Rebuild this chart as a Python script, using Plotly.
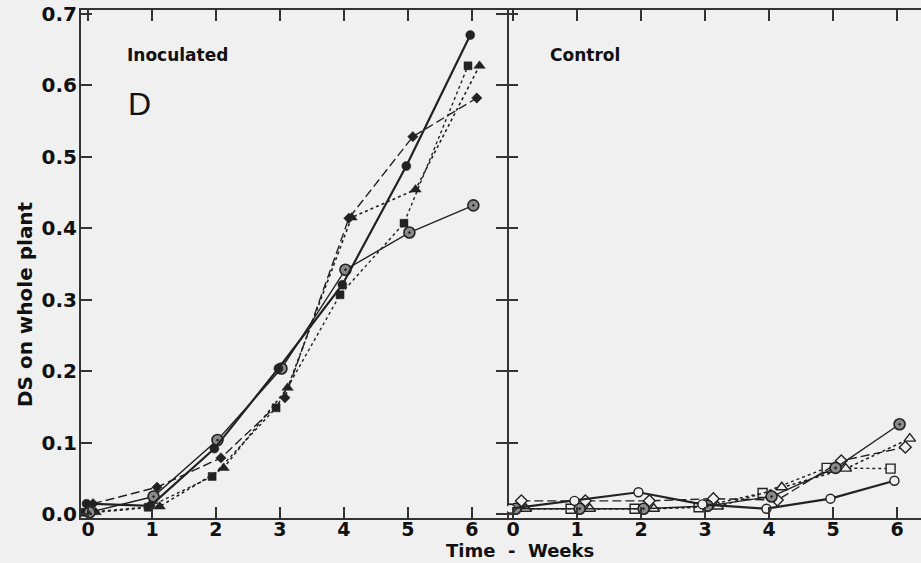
import plotly.graph_objects as go

# ---------------- data ----------------
weeks = [0, 1, 2, 3, 4, 5, 6]
y_ticks = [0.0, 0.1, 0.2, 0.3, 0.4, 0.5, 0.6, 0.7]

inoc_circle   = [0.015, 0.012, 0.092, 0.204, 0.321, 0.487, 0.670]
inoc_square   = [0.003, 0.010, 0.053, 0.149, 0.307, 0.407, 0.627]
inoc_triangle = [0.003, 0.011, 0.065, 0.177, 0.415, 0.454, 0.627]
inoc_diamond  = [0.015, 0.038, 0.079, 0.163, 0.414, 0.528, 0.582]
inoc_bullseye = [0.003, 0.025, 0.104, 0.204, 0.342, 0.394, 0.432]

ctrl_circle   = [0.008, 0.019, 0.031, 0.014, 0.008, 0.022, 0.047]
ctrl_square   = [0.008, 0.008, 0.008, 0.010, 0.030, 0.065, 0.064]
ctrl_triangle = [0.008, 0.008, 0.008, 0.011, 0.038, 0.064, 0.106]
ctrl_diamond  = [0.019, 0.019, 0.019, 0.022, 0.020, 0.075, 0.094]
ctrl_bullseye = [0.008, 0.008, 0.008, 0.012, 0.025, 0.065, 0.126]

# ---------------- styles ----------------
BG = "#f0f0f0"
INK = "#222222"
GREY = "#8a8a8a"

dodge = {"circle": -0.04, "square": -0.10, "triangle": 0.20, "diamond": 0.13, "bullseye": 0.04}
line_style = {
    "circle":   dict(dash="solid", width=2.2),
    "square":   dict(dash="3px,3px", width=1.4),
    "triangle": dict(dash="dot", width=1.6),
    "diamond":  dict(dash="9px,4px", width=1.4),
    "bullseye": dict(dash="solid", width=1.4),
}
sym_map = {"circle": "circle", "square": "square", "triangle": "triangle-up", "diamond": "diamond"}
size_filled = {"circle": 9, "square": 8, "triangle": 10, "diamond": 8}
size_open = {"circle": 9, "square": 9, "triangle": 10, "diamond": 9}

fig = go.Figure()

def add_series(vals, kind, filled, xa, ya, scale):
    xs = [w + dodge[kind] * scale for w in weeks]
    if kind == "bullseye":
        marker = dict(symbol="circle-dot", size=11, color=GREY, line=dict(color=INK, width=1.6))
    elif filled:
        marker = dict(symbol=sym_map[kind], size=size_filled[kind], color=INK,
                      line=dict(color=INK, width=0.5))
    else:
        marker = dict(symbol=sym_map[kind], size=size_open[kind], color=BG,
                      line=dict(color=INK, width=1.4))
    fig.add_trace(go.Scatter(
        x=xs, y=vals, mode="lines+markers", xaxis=xa, yaxis=ya,
        line=dict(color=INK, **line_style[kind]), marker=marker,
        showlegend=False, hoverinfo="skip"))

inoc = {"circle": inoc_circle, "square": inoc_square, "triangle": inoc_triangle,
        "diamond": inoc_diamond, "bullseye": inoc_bullseye}
ctrl = {"circle": ctrl_circle, "square": ctrl_square, "triangle": ctrl_triangle,
        "diamond": ctrl_diamond, "bullseye": ctrl_bullseye}

for k in ["square", "triangle", "diamond", "bullseye", "circle"]:
    add_series(inoc[k], k, True, "x", "y", 0.6)
for k in ["square", "triangle", "diamond", "bullseye", "circle"]:
    add_series(ctrl[k], k, False, "x2", "y2", 1.0)

tickfont = dict(family="DejaVu Sans", size=20, color="#111111", weight="bold")
xtickfont = dict(family="DejaVu Sans", size=19, color="#111111", weight="bold")
split = 426 / 840

common_x = dict(tickvals=weeks, ticktext=[str(w) for w in weeks], ticks="inside",
                ticklen=11, tickwidth=1.8, tickcolor="#333", showline=True,
                linecolor="#333", linewidth=2, mirror="ticks", showgrid=False,
                zeroline=False, tickfont=xtickfont, ticklabelstandoff=-7)
common_y = dict(range=[-0.005, 0.705], tickvals=y_ticks, ticks="inside", ticklen=11,
                tickwidth=1.8, tickcolor="#333", showgrid=False, zeroline=False,
                tickfont=tickfont)

fig.update_layout(
    width=921, height=563,
    paper_bgcolor=BG, plot_bgcolor=BG,
    margin=dict(l=81, r=0, t=10, b=45),
    xaxis=dict(domain=[0, split], range=[-0.11, 6.55], anchor="y", **common_x),
    xaxis2=dict(domain=[split, 1], range=[-0.094, 6.375], anchor="y2", **common_x),
    yaxis=dict(anchor="x", showline=True, linecolor="#333", linewidth=2, mirror="ticks",
               ticktext=[f"{v:.1f}" for v in y_ticks], ticklabelstandoff=-2, **common_y),
    yaxis2=dict(anchor="x2", showline=False, showticklabels=False, **common_y),
    yaxis3=dict(anchor="x2", overlaying="y2", side="right", showline=False,
                showticklabels=False, **common_y),
    annotations=[
        dict(text="Inoculated", x=0.58, y=0.642, xref="x", yref="y", xanchor="left",
             yanchor="middle", showarrow=False,
             font=dict(family="DejaVu Sans", size=17, color="#111", weight="bold")),
        dict(text="D", x=0.59, y=0.574, xref="x", yref="y", xanchor="left",
             yanchor="middle", showarrow=False,
             font=dict(family="Liberation Sans", size=32, color="#111")),
        dict(text="Control", x=0.55, y=0.642, xref="x2", yref="y2", xanchor="left",
             yanchor="middle", showarrow=False,
             font=dict(family="DejaVu Sans", size=17, color="#111", weight="bold")),
        dict(text="DS on whole plant", x=-0.0667, y=0.294, xref="paper", yref="y",
             textangle=-90, xanchor="center", yanchor="middle", showarrow=False,
             font=dict(family="DejaVu Sans", size=20, color="#111", weight="bold")),
        dict(text="Time\u00a0\u00a0-\u00a0\u00a0Weeks", x=0.5226, y=-0.0886, xref="paper",
             yref="paper", xanchor="center", yanchor="bottom", showarrow=False,
             font=dict(family="DejaVu Sans", size=18, color="#111", weight="bold")),
    ],
)

fig.write_html("out.html")
